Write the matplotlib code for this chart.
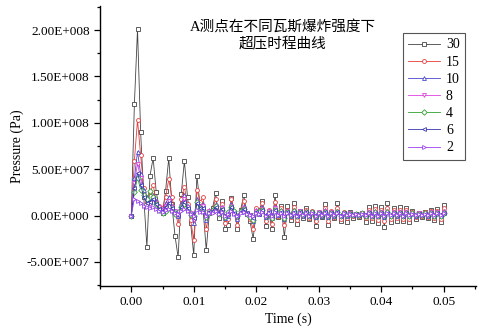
import numpy as np
import matplotlib
matplotlib.use('Agg')
import matplotlib.pyplot as plt
from matplotlib.ticker import MultipleLocator, FuncFormatter

plt.rcParams['font.family'] = ['Liberation Serif', 'Noto Sans CJK SC']
plt.rcParams['font.size'] = 9.5

# sampling grid 0 .. 0.05 s, step 0.0005 s
time = np.round(np.arange(101) * 0.0005, 4)

# overpressure in units of 1e7 Pa
p30 = [0, 12.0, 20.1, 9.0, 2.0, -3.4, 4.3, 6.2, 2.5, 0.8,
       0.3, 2.7, 6.2, 1.2, -2.2, -4.5, 2.3, 5.9, 2.0, -0.8,
       -4.3, 4.3, 1.2, 0.6, -3.7, 0.3, 0.8, 2.4, -0.3, 1.6,
       -1.5, -1.0, 1.9, 0.3, -1.4, 0.6, 2.2, 0.2, -0.6, -2.5,
       0.4, 0.6, 1.6, -1.1, 0.4, -1.4, 2.2, -0.2, 1.0, -2.3,
       1.0, -0.5, 1.4, -0.9, 0.5, -0.3, 0.8, -0.4, 0.4, -1.1,
       0.3, -0.2, 1.2, -1.0, 0.4, -0.3, 1.3, -0.6, 0.3, -0.7,
       0.4, -0.3, 0.2, -0.2, 0.3, -0.7, 0.9, -0.6, 1.0, -0.8,
       0.9, -1.2, 1.3, -0.7, 0.8, -0.6, 0.9, -0.6, 0.8, -0.7,
       0.5, -0.4, 0.3, -0.2, 0.4, -0.3, 0.6, -0.5, 0.7, -0.7, 1.1]
p15 = [0, 5.9, 10.3, 6.5, 3.0, 1.5, 2.5, 3.3, 1.5, 1.0,
       0.8, 2.0, 3.9, 2.0, 0.5, -0.9, 1.8, 3.1, 1.2, -0.5,
       -2.6, 2.8, 1.5, 2.0, -1.5, 0.5, 0.6, 1.8, 0.2, 1.2,
       -0.8, -0.4, 1.8, 0.4, -1.0, 0.5, 1.6, 0.3, -0.4, -1.4,
       0.8, 0.3, 1.4, -0.6, 0.6, -0.9, 1.5, 0.0, 0.8, -1.0,
       0.6, -0.2, 0.9, -0.5, 0.5, -0.1, 0.6, -0.3, 0.5, -0.6,
       0.4, -0.1, 0.8, -0.6, 0.5, -0.2, 0.8, -0.4, 0.4, -0.3,
       0.3, -0.1, 0.2, -0.1, 0.3, -0.3, 0.6, -0.3, 0.7, -0.5,
       0.6, -0.6, 0.8, -0.4, 0.6, -0.3, 0.6, -0.4, 0.6, -0.4,
       0.4, -0.2, 0.3, -0.1, 0.4, -0.2, 0.5, -0.3, 0.5, -0.4, 0.8]
p10 = [0, 4.0, 6.9, 4.5, 2.8, 2.0, 1.5, 2.2, 1.6, 1.0,
       0.7, 1.3, 2.0, 1.0, 0.4, 0.0, 1.2, 2.2, 1.0, 0.2,
       -0.8, 1.8, 1.0, 1.2, -0.5, 0.6, 0.5, 1.2, 0.3, 0.9,
       -0.3, 0.0, 1.2, 0.3, -0.4, 0.5, 1.0, 0.3, 0.0, -0.6,
       0.6, 0.2, 0.9, -0.2, 0.5, -0.3, 0.9, 0.1, 0.6, -0.4,
       0.5, 0.0, 0.6, -0.1, 0.5, 0.0, 0.5, -0.1, 0.4, -0.2,
       0.4, 0.0, 0.6, -0.2, 0.4, 0.0, 0.5, -0.1, 0.3, 0.0,
       0.3, 0.1, 0.2, 0.1, 0.3, 0.0, 0.4, -0.1, 0.5, -0.1,
       0.4, -0.2, 0.5, -0.1, 0.4, 0.0, 0.4, -0.1, 0.4, -0.1,
       0.3, 0.0, 0.3, 0.1, 0.3, 0.0, 0.4, -0.1, 0.4, -0.1, 0.5]
p8 = [0, 3.5, 5.6, 4.0, 2.2, 1.6, 1.2, 1.8, 1.3, 0.9,
      0.6, 1.0, 1.6, 0.9, 0.5, 0.1, 1.0, 1.8, 0.9, 0.3,
      -0.5, 1.5, 0.9, 1.0, -0.2, 0.5, 0.4, 1.0, 0.3, 0.8,
      -0.1, 0.1, 1.0, 0.3, -0.2, 0.5, 0.8, 0.3, 0.1, -0.4,
      0.5, 0.2, 0.7, -0.1, 0.5, -0.2, 0.8, 0.1, 0.5, -0.2,
      0.5, 0.1, 0.5, 0.0, 0.5, 0.0, 0.4, 0.0, 0.4, -0.1,
      0.4, 0.1, 0.5, -0.1, 0.4, 0.1, 0.4, 0.0, 0.3, 0.1,
      0.3, 0.1, 0.2, 0.1, 0.3, 0.1, 0.4, 0.0, 0.4, 0.0,
      0.4, -0.1, 0.4, 0.0, 0.4, 0.1, 0.4, 0.0, 0.4, 0.0,
      0.3, 0.1, 0.3, 0.1, 0.3, 0.1, 0.4, 0.0, 0.4, 0.0, 0.4]
p4 = [0, 2.5, 4.1, 2.8, 2.2, 1.8, 2.6, 2.0, 1.2, 0.6,
      0.3, 0.5, 1.0, 0.6, 0.2, 0.4, 0.9, 1.2, 0.6, 0.1,
      0.0, 1.5, 0.8, 0.6, -0.2, 0.3, 0.6, 1.0, 0.2, 0.6,
      -0.2, 0.4, 0.9, 0.5, 0.0, 0.5, 0.7, 0.2, -0.2, -0.5,
      0.3, 0.5, 0.6, 0.0, 0.3, -0.3, 0.6, 0.2, 0.5, -0.3,
      0.4, 0.1, 0.5, 0.0, 0.4, 0.1, 0.4, -0.1, 0.4, 0.0,
      0.3, 0.1, 0.4, -0.1, 0.3, 0.1, 0.4, 0.0, 0.3, 0.1,
      0.2, 0.1, 0.2, 0.1, 0.3, 0.0, 0.3, 0.0, 0.4, 0.0,
      0.3, -0.1, 0.4, 0.0, 0.3, 0.1, 0.3, 0.0, 0.3, 0.0,
      0.3, 0.1, 0.2, 0.1, 0.3, 0.1, 0.3, 0.0, 0.3, 0.0, 0.3]
p6 = [0, 3.0, 4.6, 3.3, 2.0, 1.4, 1.5, 1.8, 1.2, 0.7,
      0.5, 0.9, 1.4, 0.8, 0.3, 0.1, 0.9, 1.5, 0.8, 0.2,
      -0.3, 1.3, 0.8, 0.8, -0.1, 0.4, 0.5, 0.9, 0.3, 0.7,
      0.0, 0.2, 0.9, 0.3, 0.0, 0.4, 0.7, 0.3, 0.1, -0.3,
      0.4, 0.2, 0.6, 0.0, 0.4, -0.1, 0.6, 0.1, 0.4, -0.1,
      0.4, 0.1, 0.4, 0.0, 0.4, 0.1, 0.4, 0.0, 0.3, 0.0,
      0.3, 0.1, 0.4, 0.0, 0.3, 0.1, 0.4, 0.0, 0.3, 0.1,
      0.2, 0.1, 0.2, 0.1, 0.2, 0.1, 0.3, 0.0, 0.3, 0.0,
      0.3, 0.0, 0.3, 0.1, 0.3, 0.1, 0.3, 0.0, 0.3, 0.1,
      0.2, 0.1, 0.2, 0.1, 0.2, 0.1, 0.3, 0.1, 0.3, 0.1, 0.3]
p2 = [0, 1.8, 1.6, 1.3, 1.0, 0.9, 0.8, 0.9, 0.7, 0.5,
      0.4, 0.6, 0.7, 0.5, 0.3, 0.2, 0.5, 0.7, 0.5, 0.2,
      0.0, 0.6, 0.4, 0.4, 0.0, 0.3, 0.3, 0.5, 0.2, 0.4,
      0.0, 0.2, 0.5, 0.2, 0.0, 0.3, 0.4, 0.2, 0.1, -0.1,
      0.3, 0.2, 0.4, 0.0, 0.3, 0.0, 0.4, 0.1, 0.3, 0.0,
      0.3, 0.1, 0.3, 0.0, 0.3, 0.1, 0.3, 0.0, 0.3, 0.0,
      0.3, 0.1, 0.3, 0.0, 0.3, 0.1, 0.3, 0.0, 0.3, 0.1,
      0.2, 0.1, 0.2, 0.1, 0.2, 0.1, 0.3, 0.0, 0.3, 0.0,
      0.3, 0.0, 0.3, 0.1, 0.3, 0.1, 0.3, 0.0, 0.3, 0.1,
      0.2, 0.1, 0.2, 0.1, 0.2, 0.1, 0.3, 0.1, 0.3, 0.1, 0.3]

series = [('30', p30, '#444444', 's'),
          ('15', p15, '#e83a3a', 'o'),
          ('10', p10, '#4848d0', '^'),
          ('8', p8, '#e040e0', 'v'),
          ('4', p4, '#30a030', 'D'),
          ('6', p6, '#3434b0', '<'),
          ('2', p2, '#9a40f0', '>')]


def sci_fmt(v, pos):
    if v == 0:
        return '0.00E+000'
    e = int(np.floor(np.log10(abs(v))))
    m = v / 10 ** e
    return f"{m:.2f}E{'+' if e >= 0 else '-'}{abs(e):03d}"


fig = plt.figure(figsize=(4.82, 3.34), dpi=100)
ax = fig.add_axes([0.2075, 0.1437, 0.7805, 0.8383])

for label, vals, color, marker in series:
    ax.plot(time, np.array(vals) * 1e7, color=color, lw=0.6, marker=marker,
            ms=2.8, mfc='white', mec=color, mew=0.6, label=label)

ax.set_xlim(-0.005, 0.0552)
ax.set_ylim(-7.6e7, 2.26e8)
ax.xaxis.set_major_locator(MultipleLocator(0.01))
ax.xaxis.set_minor_locator(MultipleLocator(0.005))
ax.yaxis.set_major_locator(MultipleLocator(5e7))
ax.yaxis.set_minor_locator(MultipleLocator(2.5e7))
ax.xaxis.set_major_formatter(FuncFormatter(lambda v, p: f'{v:.2f}'))
ax.yaxis.set_major_formatter(FuncFormatter(sci_fmt))
ax.tick_params(which='major', direction='out', length=4, width=0.9)
ax.tick_params(which='minor', direction='out', length=2.5, width=0.9)

for side in ['top', 'right']:
    ax.spines[side].set_visible(False)
for side in ['left', 'bottom']:
    ax.spines[side].set_linewidth(1.0)

ax.set_xlabel('Time (s)', fontsize=10, labelpad=3)
ax.set_ylabel('Pressure (Pa)', fontsize=10, labelpad=2)

ax.text(0.485, 0.95, 'A测点在不同瓦斯爆炸强度下\n超压时程曲线', transform=ax.transAxes,
        ha='center', va='top', fontsize=10.5, linespacing=1.3)

leg = ax.legend(loc='upper right', bbox_to_anchor=(0.971, 0.904), borderaxespad=0,
                fontsize=10, handlelength=2.3, labelspacing=0.3, handletextpad=0.4,
                fancybox=False, framealpha=1, edgecolor='#555555', borderpad=0.4)
leg.get_frame().set_linewidth(0.8)

fig.savefig('out.png', dpi=100)
